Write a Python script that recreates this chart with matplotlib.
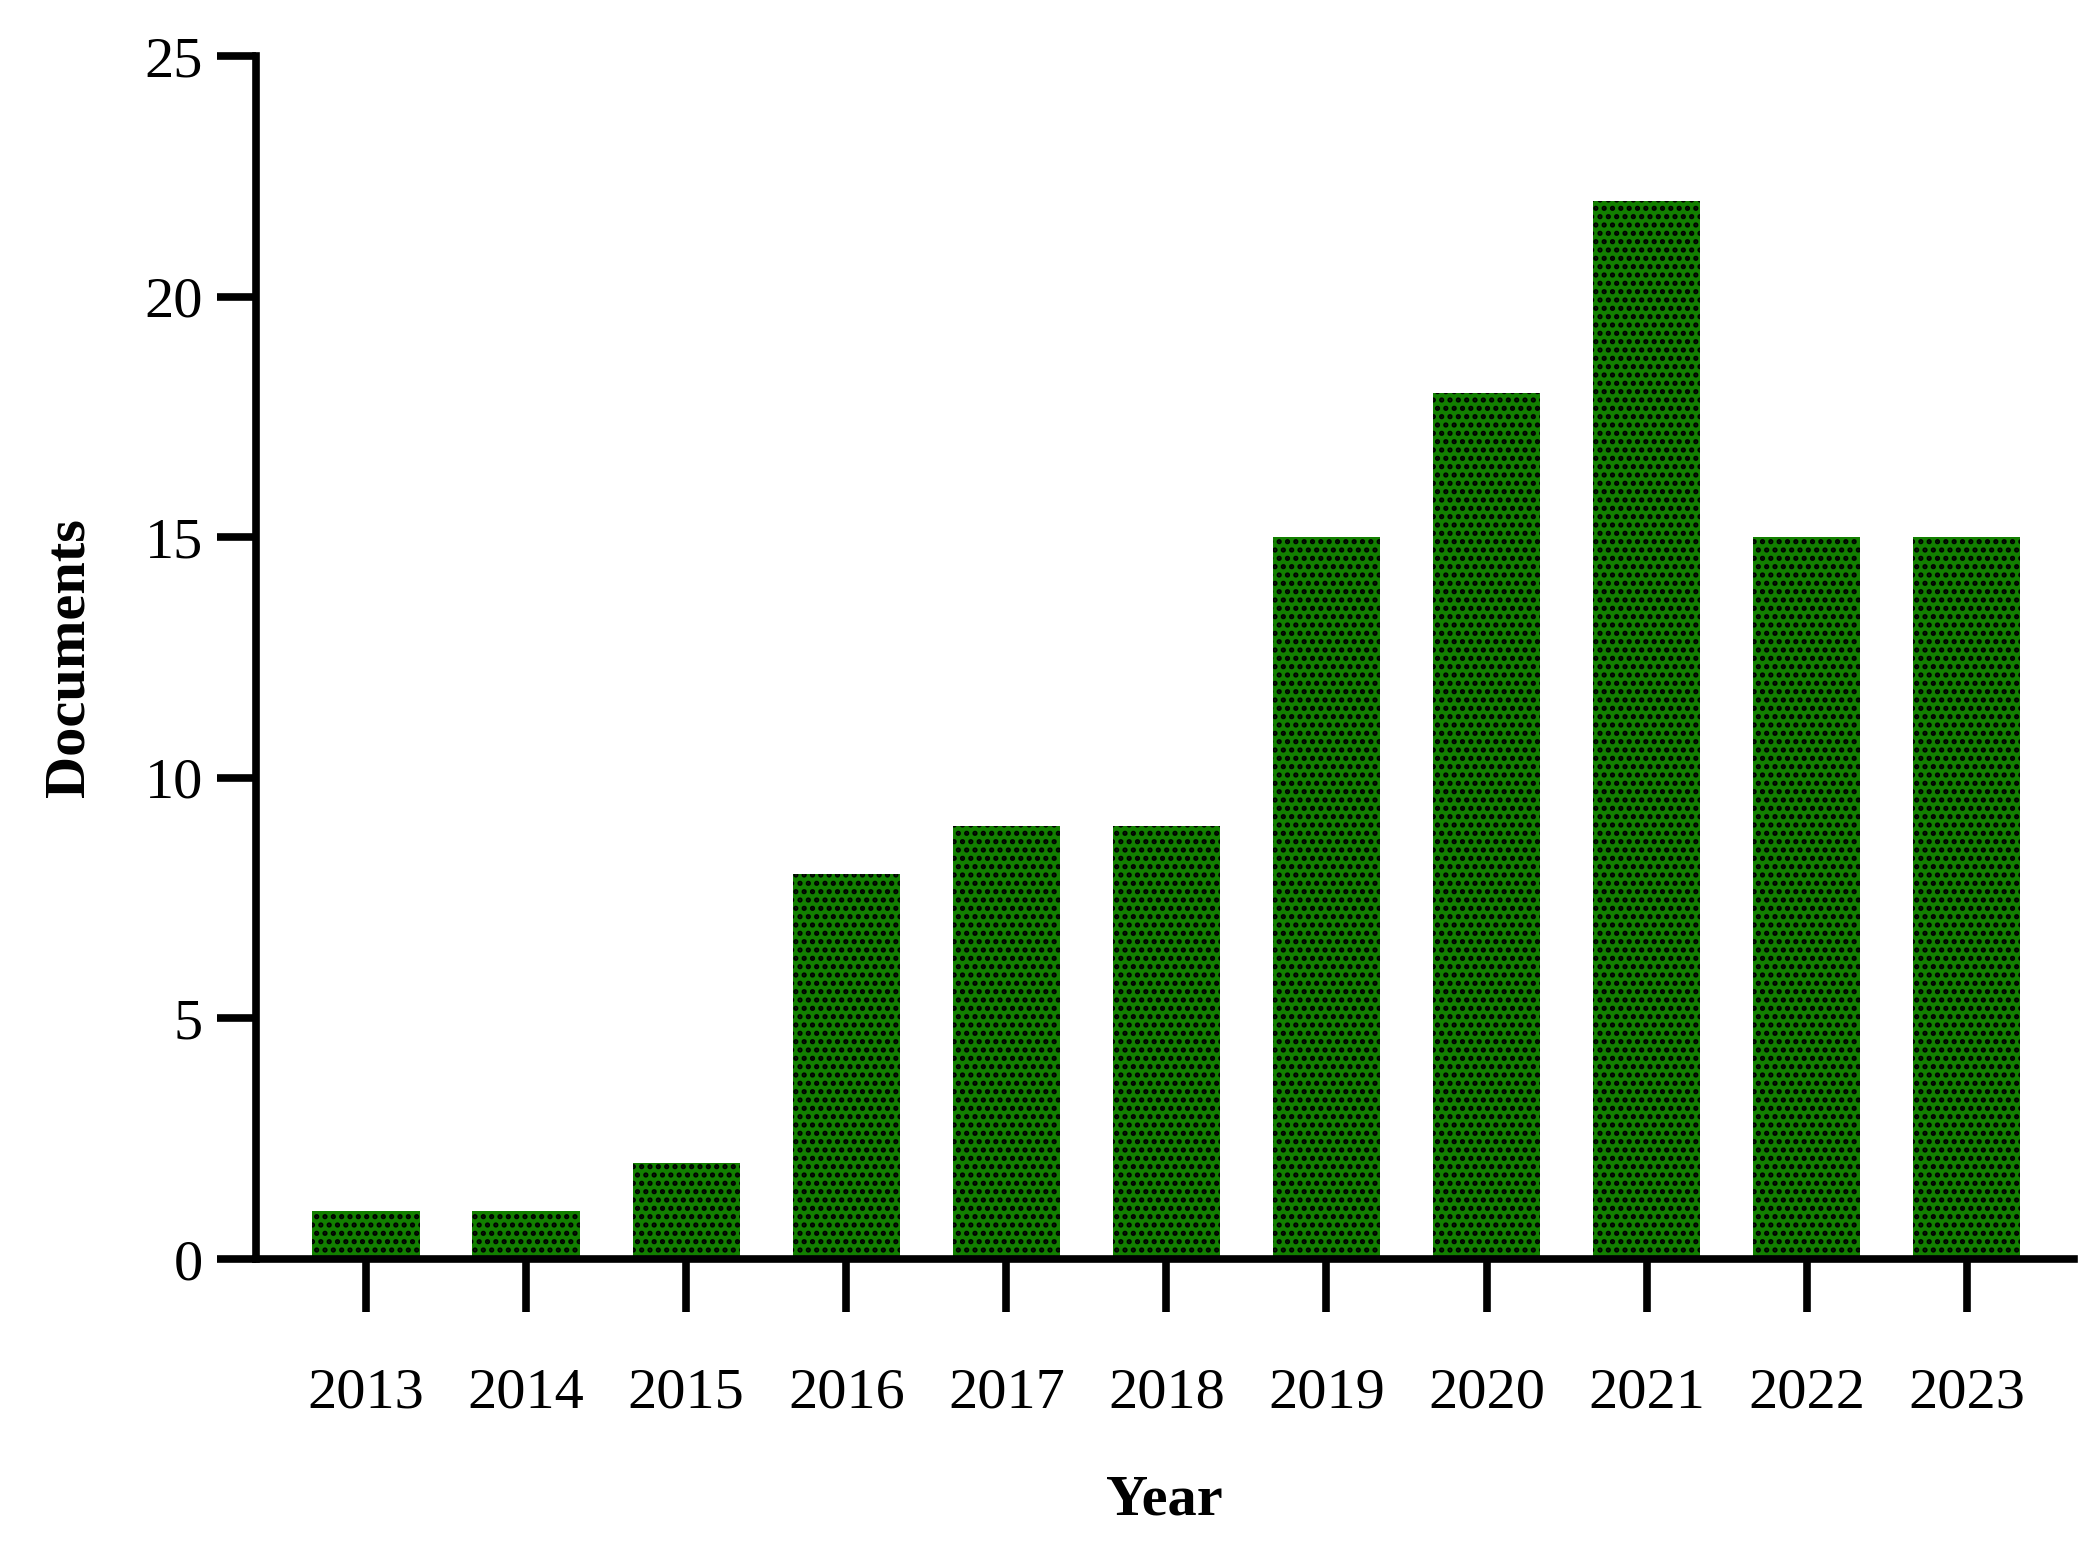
import matplotlib
matplotlib.use("Agg")
import matplotlib.pyplot as plt

years = ["2013","2014","2015","2016","2017","2018","2019","2020","2021","2022","2023"]
documents = [1, 1, 2, 8, 9, 9, 15, 18, 22, 15, 15]
yticks = [0, 5, 10, 15, 20, 25]

plt.rcParams['font.family'] = ['Liberation Serif', 'DejaVu Serif']
plt.rcParams['hatch.linewidth'] = 2.5
plt.rcParams['hatch.color'] = 'black'

fig = plt.figure(figsize=(20.95, 15.64), dpi=100)
ax = fig.add_axes([0.122, 0.195, 0.868, 0.769])
x = list(range(len(years)))
ax.bar(x, documents, width=0.67, color='#127f00', edgecolor='black', linewidth=0, hatch='..')
ax.set_xlim(-0.69, 10.67)
ax.set_ylim(0, 25)
ax.set_yticks(yticks)
ax.set_xticks(x)
ax.set_xticklabels(years)
for s in ['top', 'right']:
    ax.spines[s].set_visible(False)
for s in ['left', 'bottom']:
    ax.spines[s].set_linewidth(5.5)
ax.tick_params(axis='x', length=38, width=5.5, pad=40, labelsize=42)
ax.tick_params(axis='y', length=28, width=5.5, pad=10, labelsize=42)
ax.set_xlabel('Year', fontsize=42, fontweight='bold', labelpad=40)
ax.set_ylabel('Documents', fontsize=42, fontweight='bold', labelpad=35)
fig.savefig('out.png', dpi=100)
